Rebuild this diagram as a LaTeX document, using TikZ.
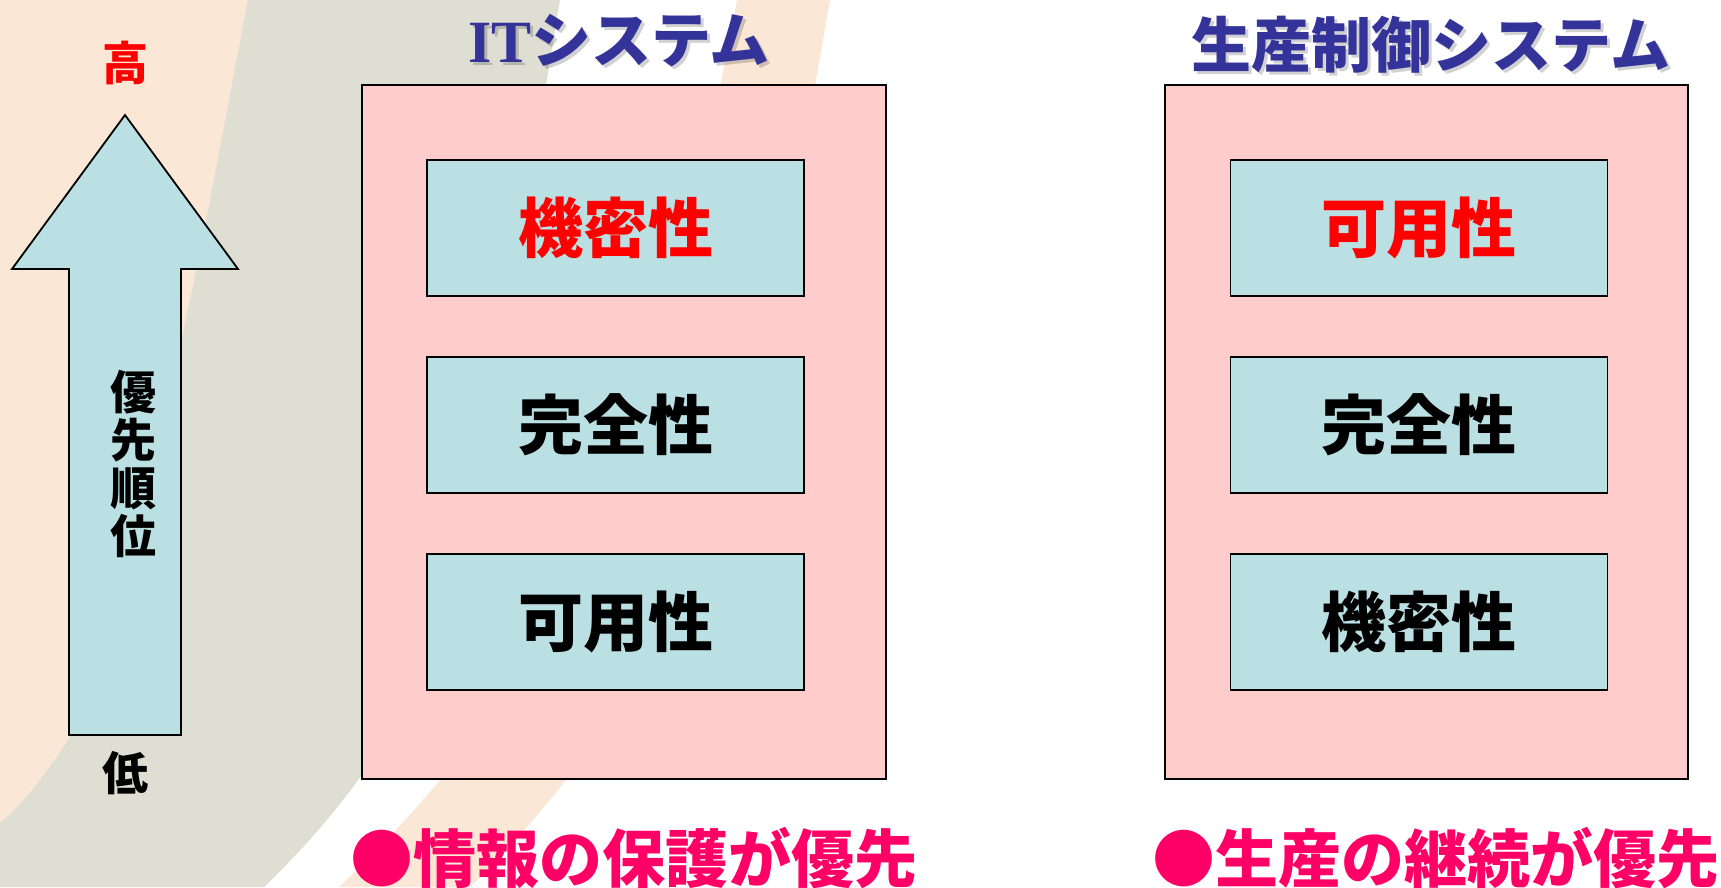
\documentclass[tikz,border=0pt]{standalone}
\usepackage{fontspec}
\newfontfamily\jp{Noto Sans CJK JP}
\newfontfamily\itserif{Liberation Serif}
\definecolor{bgbeige}{HTML}{FAE7D5}
\definecolor{bggray}{HTML}{DEDED3}
\definecolor{teal}{HTML}{BBE0E3}
\definecolor{pinkbox}{HTML}{FFCCCC}
\definecolor{titleblue}{HTML}{333399}
\definecolor{hotpink}{HTML}{FF0066}
\definecolor{redtxt}{HTML}{FF0000}
\tikzset{
  outerbox/.style={fill=pinkbox, draw=black, line width=2pt},
  innerbox/.style={fill=teal, draw=black, line width=1.8pt, minimum width=377pt, minimum height=136pt, inner sep=0pt},
  itemtxt/.style={font=\jp\bfseries\fontsize{65}{65}\selectfont, inner sep=0pt},
  sidetxt/.style={font=\jp\bfseries\fontsize{46}{48}\selectfont, inner sep=0pt, align=center},
  titletxt/.style={font=\jp\bfseries\fontsize{60}{60}\selectfont, inner sep=0pt, text=titleblue},
  titleshadow/.style={font=\jp\bfseries\fontsize{60}{60}\selectfont, inner sep=0pt, text=black, opacity=0.18},
  bottomtxt/.style={font=\jp\bfseries\fontsize{63}{63}\selectfont, inner sep=0pt, text=hotpink},
}
\begin{document}
\begin{tikzpicture}[x=1pt,y=-1pt]
\useasboundingbox (0,0) rectangle (1721,887);
\fill[white] (0,0) rectangle (1721,887);
% background decoration
\fill[bgbeige] (0,0) -- (248,0) .. controls (222,130) and (150,560) .. (68,740)
   .. controls (45,775) and (22,805) .. (0,823) -- cycle;
\fill[bggray] (248,0) .. controls (222,130) and (150,560) .. (68,740)
   .. controls (45,775) and (22,805) .. (0,823) -- (0,887) -- (264,887)
   .. controls (520,640) and (490,400) .. (560,0) -- cycle;
\fill[bgbeige] (339,887) .. controls (600,640) and (660,400) .. (737,0)
   -- (830,0) .. controls (760,400) and (720,640) .. (470,887) -- cycle;

% priority arrow
\draw[fill=teal, line width=1.8pt, line join=miter]
  (125,115) -- (238,269) -- (181,269) -- (181,735) -- (69,735) -- (69,269) -- (12,269) -- cycle;
\node[sidetxt, text=redtxt] (high) at (125,63) {高};
\node[sidetxt] (prio) at (133,464) {優\\先\\順\\位};
\node[sidetxt] (low) at (125,773) {低};

% titles
\node[titleshadow] (t1s) at (622,44) {{\itserif\bfseries IT}システム};
\node[titletxt] (t1) at (619,41) {{\itserif\bfseries IT}システム};
\node[titleshadow] (t2s) at (1434,48) {生産制御システム};
\node[titletxt] (t2) at (1431,45) {生産制御システム};

% IT system
\draw[outerbox] (362,85) rectangle (886,779);
\node[innerbox] (a1) at (615.5,228) {};
\node[innerbox] (a2) at (615.5,425) {};
\node[innerbox] (a3) at (615.5,622) {};
\node[itemtxt, text=redtxt] at (a1) {機密性};
\node[itemtxt] at (a2) {完全性};
\node[itemtxt] at (a3) {可用性};

% production control system
\draw[outerbox] (1165,85) rectangle (1688,779);
\node[innerbox] (b1) at (1419,228) {};
\node[innerbox] (b2) at (1419,425) {};
\node[innerbox] (b3) at (1419,622) {};
\node[itemtxt, text=redtxt] at (b1) {可用性};
\node[itemtxt] at (b2) {完全性};
\node[itemtxt] at (b3) {機密性};

% bottom statements
\node[bottomtxt] (s1) at (634,858) {●情報の保護が優先};
\node[bottomtxt] (s2) at (1436,858) {●生産の継続が優先};
\end{tikzpicture}
\end{document}
